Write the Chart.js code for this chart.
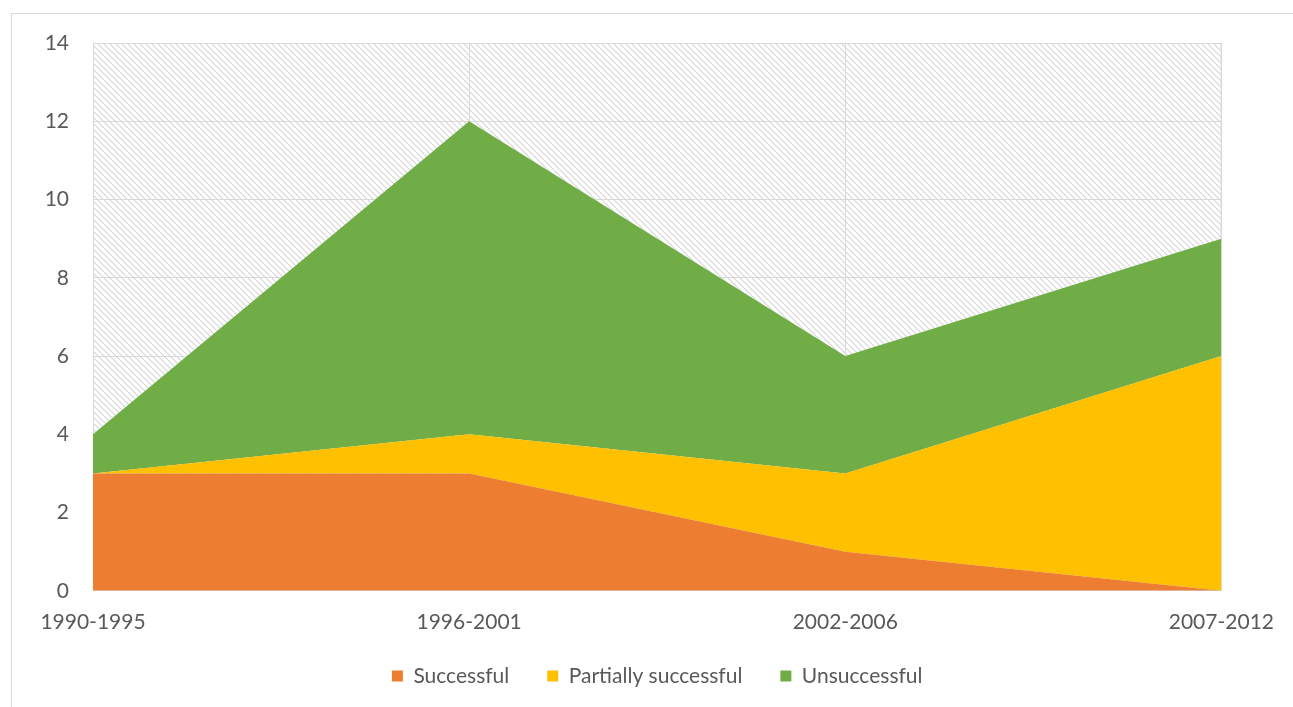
<!DOCTYPE html>
<html>
<head>
<meta charset="utf-8">
<script src="https://cdn.jsdelivr.net/npm/chart.js@4"></script>
<style>
  html, body { margin: 0; padding: 0; background: #fff; }
  #frame {
    position: absolute; left: 11px; top: 13px; width: 1300px; height: 720px;
    border-left: 1px solid #d9d9d9; border-top: 1px solid #d9d9d9;
  }
  #wrap { position: absolute; left: 0; top: 0; width: 1293px; height: 707px; }
</style>
</head>
<body>
<div id="frame"></div>
<div id="wrap"><canvas id="chart"></canvas></div>
<script>
const periods = ['1990-1995', '1996-2001', '2002-2006', '2007-2012'];
const successful = [3, 3, 1, 0];
const partially = [0, 1, 2, 6];
const unsuccessful = [1, 8, 3, 3];
const yTicks = [0, 2, 4, 6, 8, 10, 12, 14];

const labelFont = { family: 'Lato, "Open Sans", sans-serif', size: 21 };
const legendGap = 38;

function makeHatch(ctx) {
    const c = document.createElement('canvas');
    c.width = 6;
    c.height = 6;
    const p = c.getContext('2d');
    p.strokeStyle = '#d6d6d6';
    p.lineWidth = 1.2;
    p.beginPath();
    p.moveTo(0, 0); p.lineTo(6, 6);
    p.moveTo(-3, 3); p.lineTo(3, 9);
    p.moveTo(3, -3); p.lineTo(9, 3);
    p.stroke();
    return ctx.createPattern(c, 'repeat');
}

const hatchBackground = {
    id: 'hatchBackground',
    beforeDraw(chart) {
        const { ctx, chartArea: a } = chart;
        ctx.save();
        ctx.fillStyle = makeHatch(ctx);
        ctx.fillRect(a.left, a.top, a.right - a.left, a.bottom - a.top);
        ctx.strokeStyle = '#e0e0e0';
        ctx.lineWidth = 1;
        ctx.strokeRect(a.left + 0.5, a.top + 0.5, a.right - a.left - 1, a.bottom - a.top - 1);
        ctx.restore();
    }
};

// keep the legend short and centred under the plot, like the spreadsheet original
const legendPlacement = {
    id: 'legendPlacement',
    beforeLayout(chart) {
        const lg = chart.legend;
        if (lg && !lg._fixed) {
            const fit = lg.fit.bind(lg);
            lg.fit = function () { fit(); this.height = 47; };
            lg._fixed = true;
        }
    },
    afterLayout(chart) {
        const lg = chart.legend;
        const a = chart.chartArea;
        lg.left = a.left;
        lg.right = a.right;
        lg.width = a.right - a.left;
        lg.top = 676 - legendGap - 10.5;
    }
};

const ctx = document.getElementById('chart').getContext('2d');
new Chart(ctx, {
    type: 'line',
    data: {
        labels: periods,
        datasets: [{
            label: 'Successful',
            data: successful,
            backgroundColor: '#ED7D31',
            borderColor: '#ED7D31',
            fill: 'origin'
        }, {
            label: 'Partially successful',
            data: partially,
            backgroundColor: '#FFC000',
            borderColor: '#FFC000',
            fill: '-1'
        }, {
            label: 'Unsuccessful',
            data: unsuccessful,
            backgroundColor: '#70AD47',
            borderColor: '#70AD47',
            fill: '-1'
        }]
    },
    options: {
        responsive: true,
        maintainAspectRatio: false,
        animation: false,
        elements: {
            point: { radius: 0 },
            line: { borderWidth: 0, tension: 0 }
        },
        layout: {
            padding: { left: 30, right: 71, top: 43, bottom: 6 }
        },
        plugins: {
            legend: {
                position: 'bottom',
                labels: {
                    boxWidth: 11,
                    boxHeight: 11,
                    padding: legendGap,
                    color: '#595959',
                    font: labelFont
                }
            },
            tooltip: { enabled: false }
        },
        scales: {
            x: {
                offset: false,
                grid: { color: '#d9d9d9', drawTicks: false },
                border: { display: false },
                ticks: {
                    color: '#595959',
                    font: labelFont,
                    padding: 19,
                    maxRotation: 0
                }
            },
            y: {
                stacked: true,
                min: 0,
                max: 14,
                afterBuildTicks: (axis) => {
                    axis.ticks = yTicks.map(v => ({ value: v }));
                },
                afterFit: (axis) => {
                    axis.width = 63;
                },
                grid: { color: '#d9d9d9', drawTicks: false },
                border: { display: false },
                ticks: {
                    color: '#595959',
                    font: labelFont,
                    padding: 24
                }
            }
        }
    },
    plugins: [hatchBackground, legendPlacement]
});
</script>
</body>
</html>
